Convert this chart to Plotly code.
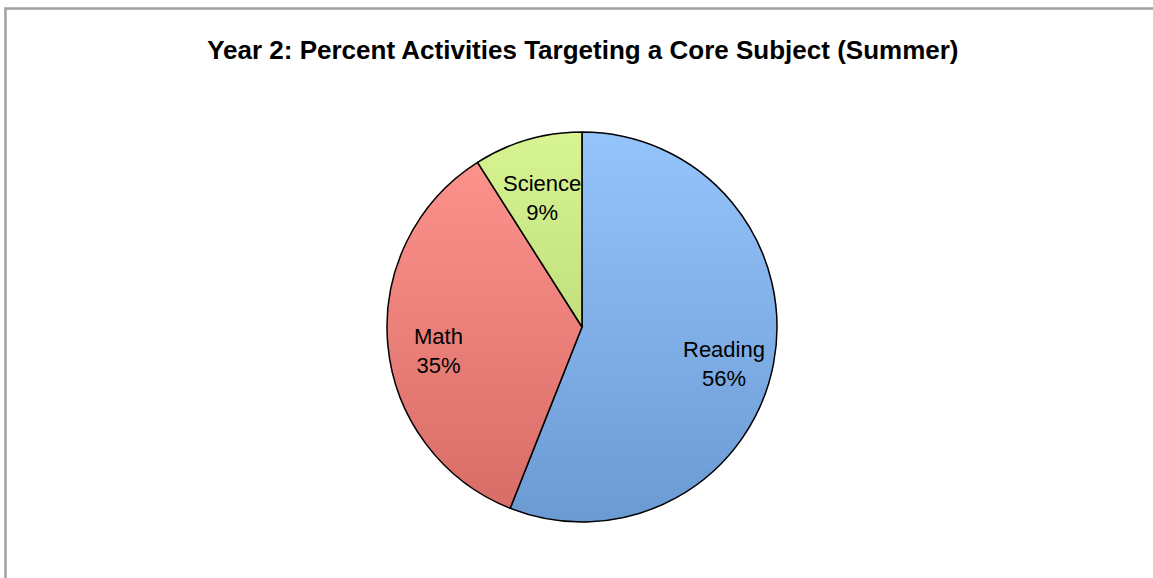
import math
from urllib.parse import quote

import plotly.graph_objects as go

# Share of summer activities by core subject
subjects = ["Reading", "Math", "Science"]
percents = [56, 35, 9]
# translucent slice fills laid over a white-to-grey shading disc
slice_colors = ["rgba(112,174,250,0.74)", "rgba(255,112,102,0.74)", "rgba(200,240,108,0.74)"]

FONT = "Liberation Sans, Arial, sans-serif"
W, H = 1153, 578
M_L, M_R, M_T, M_B = 11, 0, 132, 56
plot_w = W - M_L - M_R
plot_h = H - M_T - M_B
radius_px = min(plot_w, plot_h) / 2

fig = go.Figure(
    go.Pie(
        labels=subjects,
        values=percents,
        sort=False,
        direction="clockwise",
        rotation=0,
        marker=dict(colors=slice_colors, line=dict(color="#000000", width=1.5)),
        textinfo="none",
        hoverinfo="label+percent",
        showlegend=False,
        domain=dict(x=[0, 1], y=[0, 1]),
    )
)

# category labels at each slice's mid-angle
label_frac = 0.74
total = sum(percents)
cum = 0
annotations = []
for name, val in zip(subjects, percents):
    mid = (cum + val / 2) / total * 2 * math.pi
    cum += val
    dx = label_frac * radius_px * math.sin(mid)
    dy = label_frac * radius_px * math.cos(mid)
    annotations.append(
        dict(
            text=f"{name}<br>{val}%",
            x=0.5 + dx / plot_w,
            y=0.5 + dy / plot_h,
            xref="paper",
            yref="paper",
            xanchor="center",
            yanchor="middle",
            yshift=-10,
            showarrow=False,
            align="center",
            font=dict(family=FONT, size=22, color="#000000"),
        )
    )

# vertical shading disc sitting under the translucent slices
shade_svg = (
    "<svg xmlns='http://www.w3.org/2000/svg' viewBox='0 0 100 100'>"
    "<defs><linearGradient id='g' x1='0' y1='0' x2='0' y2='1'>"
    "<stop offset='0' stop-color='#ffffff'/>"
    "<stop offset='1' stop-color='#606060'/>"
    "</linearGradient></defs>"
    "<circle cx='50' cy='50' r='50' fill='url(#g)'/></svg>"
)
shade_src = "data:image/svg+xml;charset=utf-8," + quote(shade_svg)

fig.update_layout(
    width=W,
    height=H,
    margin=dict(l=M_L, r=M_R, t=M_T, b=M_B),
    paper_bgcolor="#FFFFFF",
    plot_bgcolor="#FFFFFF",
    title=dict(
        text="<b>Year 2: Percent Activities Targeting a Core Subject (Summer)</b>",
        x=0.5055,
        xanchor="center",
        y=1 - 50 / H,
        yanchor="middle",
        font=dict(family=FONT, size=26, color="#000000"),
    ),
    annotations=annotations,
    images=[
        dict(
            source=shade_src,
            xref="paper",
            yref="paper",
            x=0.5,
            y=0.5,
            sizex=1,
            sizey=1,
            xanchor="center",
            yanchor="middle",
            sizing="contain",
            layer="below",
        )
    ],
    shapes=[
        dict(
            type="rect",
            xref="paper",
            yref="paper",
            x0=(5.5 - M_L) / plot_w,
            x1=1.01,
            y0=-0.2,
            y1=(H - M_B - 8.5) / plot_h,
            line=dict(color="#A0A0A0", width=2.5),
            fillcolor="rgba(0,0,0,0)",
            layer="below",
        )
    ],
)

fig.write_html("out.html")
